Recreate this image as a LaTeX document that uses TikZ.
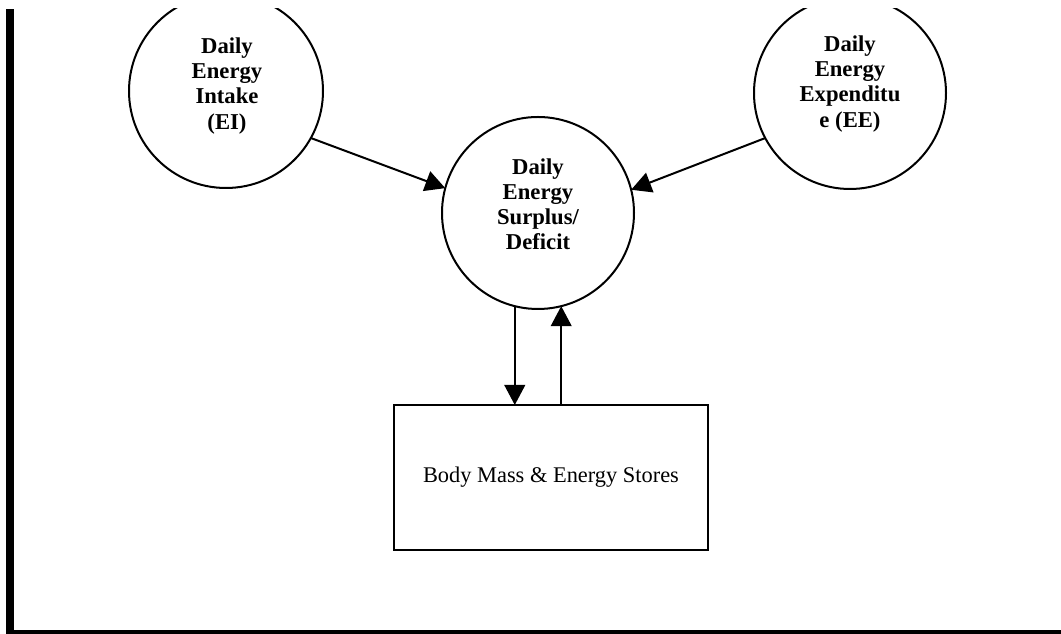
\documentclass[tikz,border=0pt]{standalone}
\usepackage{fontspec}
\setmainfont{Liberation Serif}
\usetikzlibrary{arrows.meta,calc}
\begin{document}
\begin{tikzpicture}[x=0.75pt,y=0.75pt,
  circ/.style={draw,line width=1.5pt,circle,minimum size=192pt*0.75,inner sep=0pt,outer sep=0pt},
  ctext/.style={align=center,font=\fontsize{17}{18.8}\selectfont\bfseries,inner sep=0pt},
  stores/.style={draw,line width=1.8pt,minimum width=314*0.75pt,minimum height=145*0.75pt,inner sep=0pt,outer sep=0pt,font=\fontsize{16.8}{19}\selectfont},
  arr/.style={line width=1.5pt,-{Triangle[length=15pt,width=15.5pt]}}]
\useasboundingbox (0,0) rectangle (1061,634);
\begin{scope}
\clip (0,0) rectangle (1061,625);
\node[circ,minimum size=194*0.75pt] (EI) at (226,543) {};
\node[circ] (EE) at (850,541) {};
\node[circ] (S) at (538,421) {};
\node[ctext] (EIt) at (227,548) {Daily\\Energy\\Intake\\(EI)};
\node[ctext] (EEt) at (850,550) {Daily\\Energy\\Expenditu\\e (EE)};
\node[ctext] (St) at (538,430) {Daily\\Energy\\Surplus/\\Deficit};
\end{scope}
\node[stores] (B) at (551,156.5) {Body Mass \& Energy Stores};
\draw[arr] (EI.-29.4) -- (S.165.3);
\draw[arr] (EE.-152) -- (S.14.2);
\draw[arr] (S.256) -- (S.256 |- B.north);
\draw[arr] (B.north -| S.284.5) -- (S.284.5);
\fill (6,0) rectangle (14,625);
\fill (6,0) rectangle (1061,4);
\end{tikzpicture}
\end{document}
